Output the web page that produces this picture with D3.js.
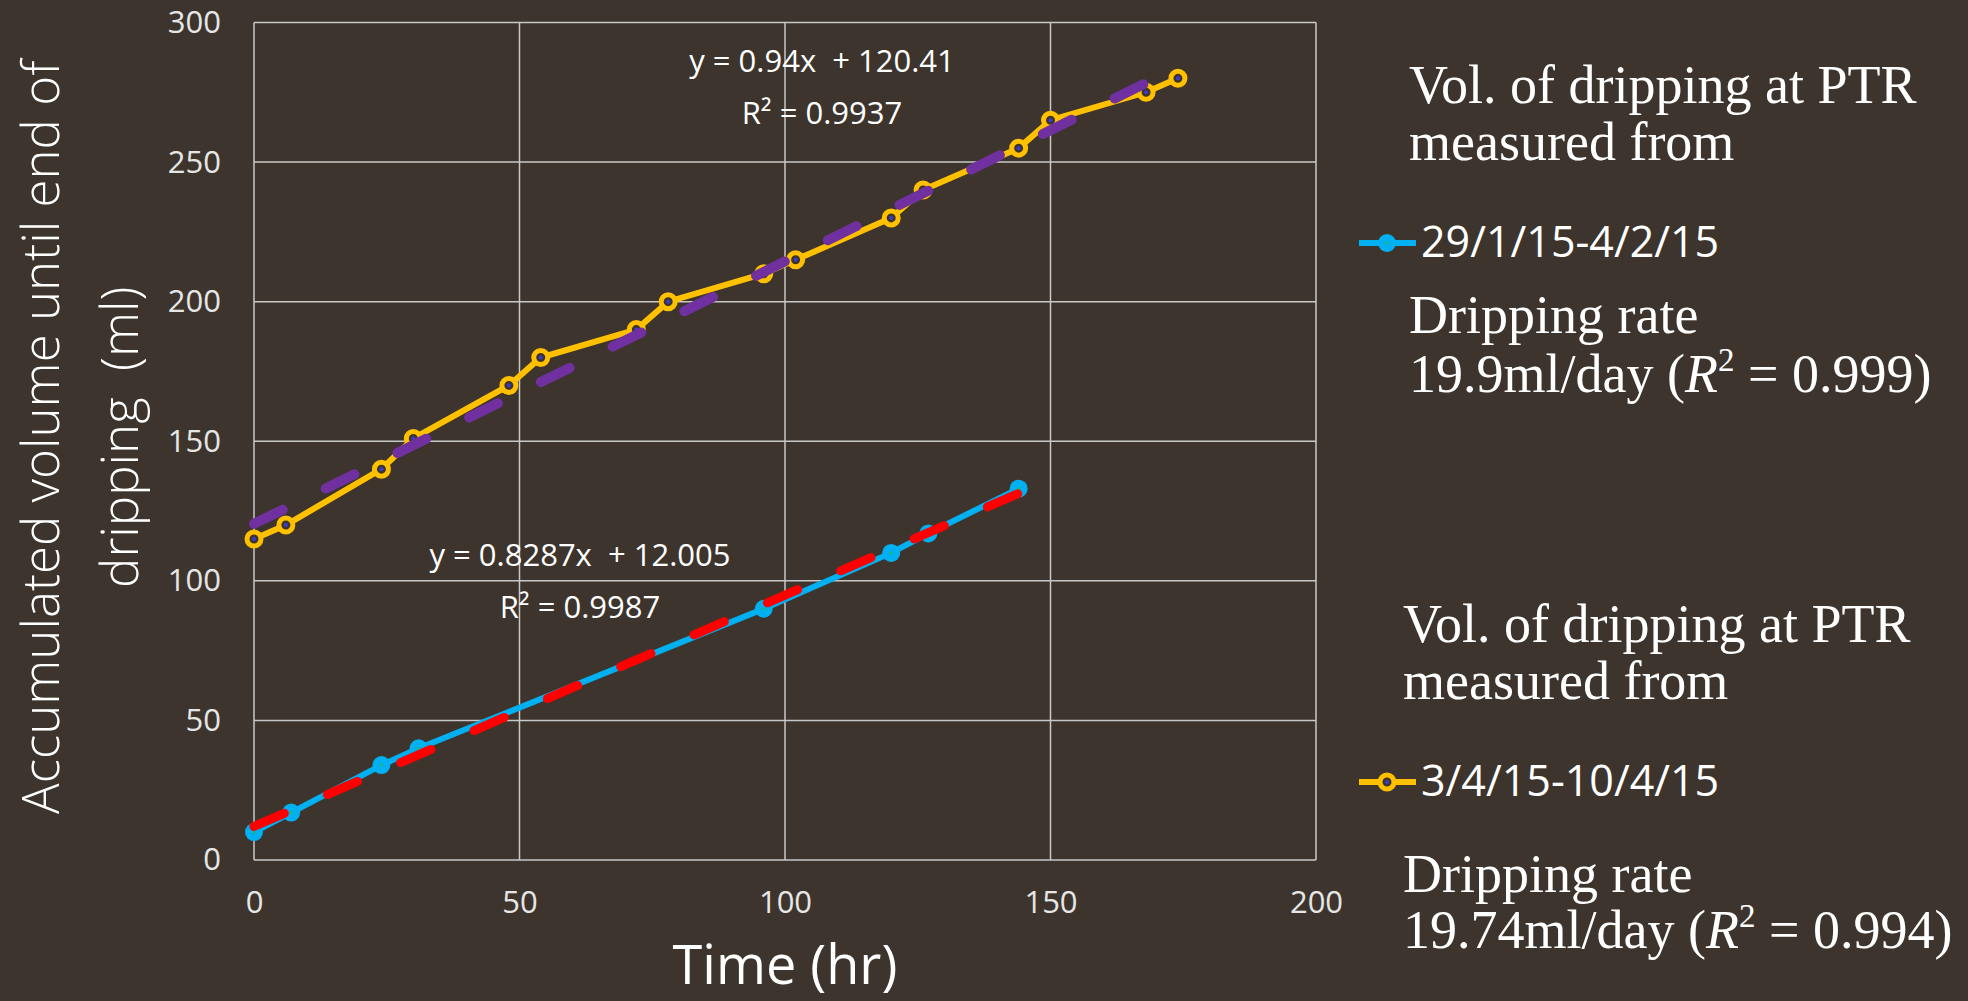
<!DOCTYPE html>
<html>
<head>
<meta charset="utf-8">
<script src="https://cdn.jsdelivr.net/npm/d3@7/dist/d3.min.js"></script>
<style>
  body { margin: 0; background: #3d352d; }
</style>
</head>
<body>
<div id="chart"></div>
<script>
// series: hours since start, accumulated ml
var hoursJan = [0, 7, 24, 31, 96, 120, 127, 144];
var volJan = [10, 17, 34, 40, 90, 110, 117, 133];
var hoursApr = [0, 6, 24, 30, 48, 54, 72, 78, 96, 102, 120, 126, 144, 150, 168, 174];
var volApr = [115, 120, 140, 151, 170, 180, 190, 200, 210, 215, 230, 240, 255, 265, 275, 280];

// linear trendlines as printed on the chart: [slope, intercept]
var trendJan = [0.8287, 12.005];
var trendApr = [0.94, 120.41];
var trendLabelsJan = ["y = 0.8287x  + 12.005", "R² = 0.9987"];
var trendLabelsApr = ["y = 0.94x  + 120.41", "R² = 0.9937"];

var xTicks = [0, 50, 100, 150, 200];
var yTicks = [0, 50, 100, 150, 200, 250, 300];

var seriesNames = ["29/1/15-4/2/15", "3/4/15-10/4/15"];
var legendHead = ["Vol. of dripping at PTR", "measured from"];
var rateText = ["19.9ml/day", "19.74ml/day"];
var rateR2 = ["0.999", "0.994"];

var bg = "#3d352d";
var sans = "'Open Sans', 'Noto Sans', sans-serif";
var serif = "'Liberation Serif', 'DejaVu Serif', serif";

var margin = { top: 22.5, right: 652, bottom: 141, left: 254 },
  width = 1968 - margin.left - margin.right,
  height = 1001 - margin.top - margin.bottom;

var root = d3
  .select("#chart")
  .append("svg")
  .attr("width", 1968)
  .attr("height", 1001)
  .style("font-family", sans);

root.append("rect").attr("width", 1968).attr("height", 1001).attr("fill", bg);

var svg = root
  .append("g")
  .attr("transform", "translate(" + margin.left + "," + margin.top + ")");

var x = d3.scaleLinear().domain([0, 200]).range([0, width]);
var y = d3.scaleLinear().domain([0, 300]).range([height, 0]);

// grid + border
svg
  .selectAll(".hgrid")
  .data(yTicks)
  .enter()
  .append("line")
  .attr("x1", 0)
  .attr("x2", width)
  .attr("y1", (d) => y(d))
  .attr("y2", (d) => y(d))
  .attr("stroke", "#c8c8c8")
  .attr("stroke-width", 1.5);
svg
  .selectAll(".vgrid")
  .data(xTicks)
  .enter()
  .append("line")
  .attr("y1", 0)
  .attr("y2", height)
  .attr("x1", (d) => x(d))
  .attr("x2", (d) => x(d))
  .attr("stroke", "#c8c8c8")
  .attr("stroke-width", 1.5);

// axes (labels only)
var xAxis = svg
  .append("g")
  .attr("transform", "translate(0," + height + ")")
  .call(d3.axisBottom(x).tickValues(xTicks).tickSize(0));
var yAxis = svg.append("g").call(d3.axisLeft(y).tickValues(yTicks).tickSize(0).tickPadding(33));
[xAxis, yAxis].forEach(function (a) {
  a.select(".domain").remove();
  a.attr("font-family", null).attr("font-size", null);
  a.selectAll("text")
    .style("font-family", sans)
    .style("font-size", "31px")
    .attr("fill", "#e6e6e6");
});
xAxis.selectAll("text").attr("dy", null).attr("y", 53);

// axis titles
svg
  .append("text")
  .attr("x", x(100))
  .attr("y", 984 - margin.top)
  .attr("text-anchor", "middle")
  .style("font-size", "54px")
  .attr("fill", "#ffffff")
  .text("Time (hr)");

var yTitle = ["Accumulated volume until end of", "dripping  (ml)"];
var yTitleBase = [59, 138];
yTitle.forEach(function (t, i) {
  root
    .append("text")
    .attr("transform", "translate(" + yTitleBase[i] + "," + (margin.top + height / 2 - 4) + ") rotate(-90)")
    .attr("text-anchor", "middle")
    .style("font-size", "51px")
    .style("font-weight", 300)
    .attr("fill", "#ffffff")
    .style("white-space", "pre")
    .text(t);
});

// series
var jan = hoursJan.map((h, i) => ({ h: h, v: volJan[i] }));
var apr = hoursApr.map((h, i) => ({ h: h, v: volApr[i] }));
var line = d3
  .line()
  .x((d) => x(d.h))
  .y((d) => y(d.v));

svg.append("path").datum(jan).attr("fill", "none").attr("stroke", "#00b0f0").attr("stroke-width", 6).attr("d", line);
svg.append("path").datum(apr).attr("fill", "none").attr("stroke", "#ffc000").attr("stroke-width", 6).attr("d", line);

svg
  .selectAll(".ptJan")
  .data(jan)
  .enter()
  .append("circle")
  .attr("cx", (d) => x(d.h))
  .attr("cy", (d) => y(d.v))
  .attr("r", 9)
  .attr("fill", "#00b0f0");
svg
  .selectAll(".dotJan")
  .data(jan)
  .enter()
  .append("circle")
  .attr("cx", (d) => x(d.h))
  .attr("cy", (d) => y(d.v))
  .attr("r", 1.5)
  .attr("fill", "#22b573");

svg
  .selectAll(".ptApr")
  .data(apr)
  .enter()
  .append("circle")
  .attr("cx", (d) => x(d.h))
  .attr("cy", (d) => y(d.v))
  .attr("r", 7)
  .attr("fill", bg)
  .attr("stroke", "#ffc000")
  .attr("stroke-width", 5);
svg
  .selectAll(".dotApr")
  .data(apr)
  .enter()
  .append("circle")
  .attr("cx", (d) => x(d.h))
  .attr("cy", (d) => y(d.v))
  .attr("r", 2)
  .attr("fill", "#3b3bd6");

// trendlines on top
function trend(coef, maxH) {
  return [0, maxH].map((h) => ({ h: h, v: coef[0] * h + coef[1] }));
}
svg
  .append("path")
  .datum(trend(trendJan, d3.max(hoursJan)))
  .attr("fill", "none")
  .attr("stroke", "#ff0000")
  .attr("stroke-width", 9)
  .attr("stroke-linecap", "round")
  .attr("stroke-dasharray", "33 47")
  .attr("d", line);
svg
  .append("path")
  .datum(trend(trendApr, d3.max(hoursApr)))
  .attr("fill", "none")
  .attr("stroke", "#7030a0")
  .attr("stroke-width", 10)
  .attr("stroke-linecap", "round")
  .attr("stroke-dasharray", "32 48")
  .attr("d", line);

// trendline equations
function eqLabel(lines, cx, base) {
  lines.forEach(function (t, i) {
    root
      .append("text")
      .attr("x", cx)
      .attr("y", base[i])
      .attr("text-anchor", "middle")
      .style("font-size", "31px")
      .attr("fill", "#ffffff")
      .style("white-space", "pre")
      .text(t);
  });
}
eqLabel(trendLabelsApr, 822, [72, 124]);
eqLabel(trendLabelsJan, 580, [566, 618]);

// legend
var legendY = [0, 539];
var legendColor = ["#00b0f0", "#ffc000"];
legendY.forEach(function (off, i) {
  var g = root.append("g").attr("transform", "translate(0," + off + ")");
  var lx = i === 0 ? 1409 : 1403;
  legendHead.forEach(function (t, j) {
    g.append("text")
      .attr("x", lx)
      .attr("y", [103, 160][j])
      .style("font-family", serif)
      .style("font-size", "54px")
      .attr("fill", "#ffffff")
      .text(t);
  });
  g.append("line")
    .attr("x1", 1359)
    .attr("x2", 1416)
    .attr("y1", 243)
    .attr("y2", 243)
    .attr("stroke", legendColor[i])
    .attr("stroke-width", 6);
  if (i === 0) {
    g.append("circle").attr("cx", 1387).attr("cy", 243).attr("r", 9).attr("fill", legendColor[i]);
    g.append("circle").attr("cx", 1387).attr("cy", 243).attr("r", 1.5).attr("fill", "#22b573");
  } else {
    g.append("circle").attr("cx", 1387).attr("cy", 243).attr("r", 7).attr("fill", bg)
      .attr("stroke", legendColor[i]).attr("stroke-width", 5);
    g.append("circle").attr("cx", 1387).attr("cy", 243).attr("r", 2).attr("fill", "#3b3bd6");
  }
  g.append("text")
    .attr("x", 1421)
    .attr("y", 257)
    .style("font-size", "43px")
    .attr("fill", "#ffffff")
    .text(seriesNames[i]);

  var rateBase = i === 0 ? [333, 392] : [353, 409];
  g.append("text")
    .attr("x", lx)
    .attr("y", rateBase[0])
    .style("font-family", serif)
    .style("font-size", "54px")
    .attr("fill", "#ffffff")
    .text("Dripping rate");
  var rt = g
    .append("text")
    .attr("x", lx)
    .attr("y", rateBase[1])
    .style("font-family", serif)
    .style("font-size", "54px")
    .attr("fill", "#ffffff")
    .style("white-space", "pre");
  rt.append("tspan").text(rateText[i] + " (");
  rt.append("tspan").style("font-style", "italic").text("R");
  rt.append("tspan").style("font-size", "33px").attr("dy", -21).text("2");
  rt.append("tspan").attr("dy", 21).text(" = " + rateR2[i] + ")");
});
</script>
</body>
</html>
